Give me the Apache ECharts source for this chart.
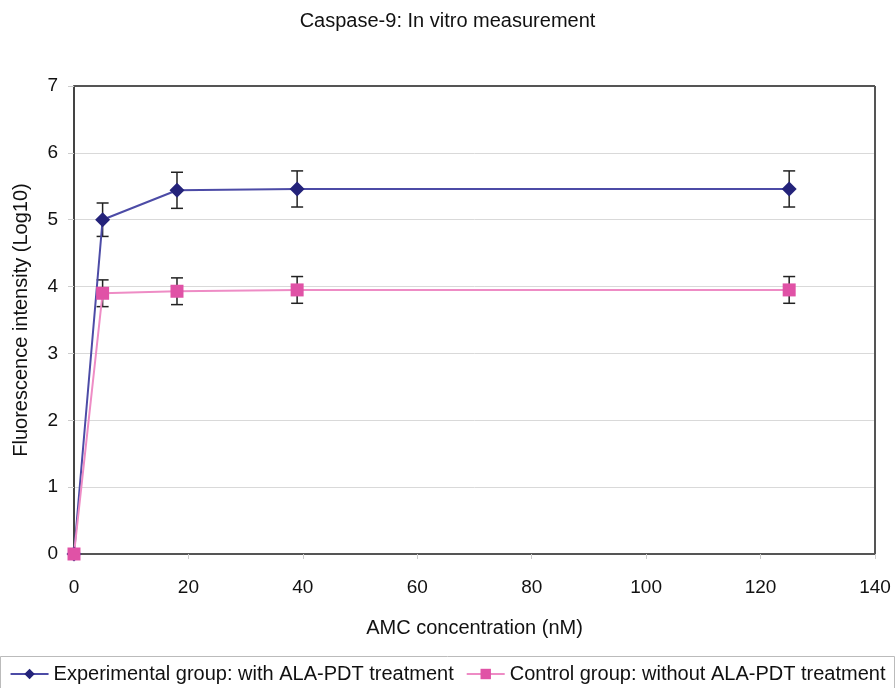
<!DOCTYPE html>
<html>
<head>
<meta charset="utf-8">
<style>
  html, body { margin: 0; padding: 0; background: #fff; }
  #main { width: 895px; height: 688px; }
</style>
<script src="https://cdn.jsdelivr.net/npm/echarts@6/dist/echarts.min.js"></script>
</head>
<body>
<div id="main"></div>
<script>
// AMC concentration (nM)
const conc = [0, 5, 18, 39, 125];

// Fluorescence intensity (Log10)
const expValues = [0, 5.0, 5.44, 5.46, 5.46];
const expErr = [0, 0.25, 0.27, 0.27, 0.27];

const ctrlValues = [0, 3.9, 3.93, 3.95, 3.95];
const ctrlErr = [0, 0.2, 0.2, 0.2, 0.2];

const expName = 'Experimental group: with ALA-PDT treatment';
const ctrlName = 'Control group: without ALA-PDT treatment';

let toPoints = (vals) => conc.map((x, i) => [x, vals[i]]);

let toErrBars = (vals, errs) => {
    let out = [];
    conc.forEach((x, i) => {
        if (errs[i] > 0) out.push([x, vals[i] - errs[i], vals[i] + errs[i]]);
    });
    return out;
};

let errorBarItem = (params, api) => {
    let x = api.value(0);
    let lo = api.coord([x, api.value(1)]);
    let hi = api.coord([x, api.value(2)]);
    let half = 6;
    let style = { stroke: '#222', lineWidth: 1.5 };
    return {
        type: 'group',
        children: [
            { type: 'line', shape: { x1: lo[0], y1: lo[1], x2: hi[0], y2: hi[1] }, style: style },
            { type: 'line', shape: { x1: hi[0] - half, y1: hi[1], x2: hi[0] + half, y2: hi[1] }, style: style },
            { type: 'line', shape: { x1: lo[0] - half, y1: lo[1], x2: lo[0] + half, y2: lo[1] }, style: style }
        ]
    };
};

let myChart = echarts.init(document.getElementById('main'));

const txt = '#111';
const font = 'Liberation Sans';

let option = {
    animation: false,
    backgroundColor: '#fff',
    title: {
        text: 'Caspase-9: In vitro measurement',
        left: 'center',
        top: 6,
        textStyle: { fontFamily: font, fontSize: 20, fontWeight: 'normal', color: txt }
    },
    graphic: [{
        type: 'rect',
        shape: { x: 0.5, y: 656.5, width: 894, height: 40 },
        style: { fill: 'none', stroke: '#bbb', lineWidth: 1 },
        silent: true
    }],
    legend: {
        top: 659,
        left: 'center',
        itemGap: 12,
        itemWidth: 38,
        itemHeight: 13,
        textStyle: { fontFamily: font, fontSize: 20, color: txt },
        data: [expName, ctrlName]
    },
    grid: { left: 74, right: 20, top: 86, bottom: 134, outerBoundsMode: 'none', containLabel: false },
    xAxis: {
        type: 'value',
        min: 0,
        max: 140,
        interval: 20,
        name: 'AMC concentration (nM)',
        nameLocation: 'middle',
        nameGap: 64,
        nameTextStyle: { fontFamily: font, fontSize: 20, color: txt },
        axisLine: { onZero: false, lineStyle: { color: '#555', width: 2 } },
        axisTick: { show: true, length: 5, lineStyle: { color: '#ccc' } },
        axisLabel: { fontFamily: font, fontSize: 19, color: txt, margin: 24 },
        splitLine: { show: false }
    },
    yAxis: {
        type: 'value',
        min: 0,
        max: 7,
        interval: 1,
        name: 'Fluorescence intensity (Log10)',
        nameLocation: 'middle',
        nameGap: 43,
        nameTextStyle: { fontFamily: font, fontSize: 20, color: txt },
        axisLine: { show: true, lineStyle: { color: '#444', width: 2 } },
        axisTick: { show: true, length: 6, lineStyle: { color: '#ccc' } },
        axisLabel: { fontFamily: font, fontSize: 19, color: txt, margin: 16 },
        splitLine: { show: true, lineStyle: { color: '#d9d9d9', width: 1 } }
    },
    series: [
        {
            name: 'frame',
            type: 'line',
            data: [],
            silent: true,
            markLine: {
                silent: true,
                symbol: 'none',
                label: { show: false },
                lineStyle: { color: '#555', width: 2, type: 'solid' },
                data: [
                    [{ coord: [0, 7] }, { coord: [140, 7] }],
                    [{ coord: [140, 0] }, { coord: [140, 7] }]
                ]
            }
        },
        {
            name: expName + ' err',
            type: 'custom',
            renderItem: errorBarItem,
            data: toErrBars(expValues, expErr),
            z: 3,
            silent: true
        },
        {
            name: ctrlName + ' err',
            type: 'custom',
            renderItem: errorBarItem,
            data: toErrBars(ctrlValues, ctrlErr),
            z: 3,
            silent: true
        },
        {
            name: expName,
            type: 'line',
            data: toPoints(expValues),
            symbol: 'diamond',
            symbolSize: 15,
            z: 4,
            itemStyle: { color: '#24237A' },
            lineStyle: { color: '#4C4BA6', width: 2 }
        },
        {
            name: ctrlName,
            type: 'line',
            data: toPoints(ctrlValues),
            symbol: 'rect',
            symbolSize: 13,
            z: 4,
            itemStyle: { color: '#E052A6' },
            lineStyle: { color: '#EE8CC5', width: 2 }
        }
    ]
};

myChart.setOption(option);
</script>
</body>
</html>
